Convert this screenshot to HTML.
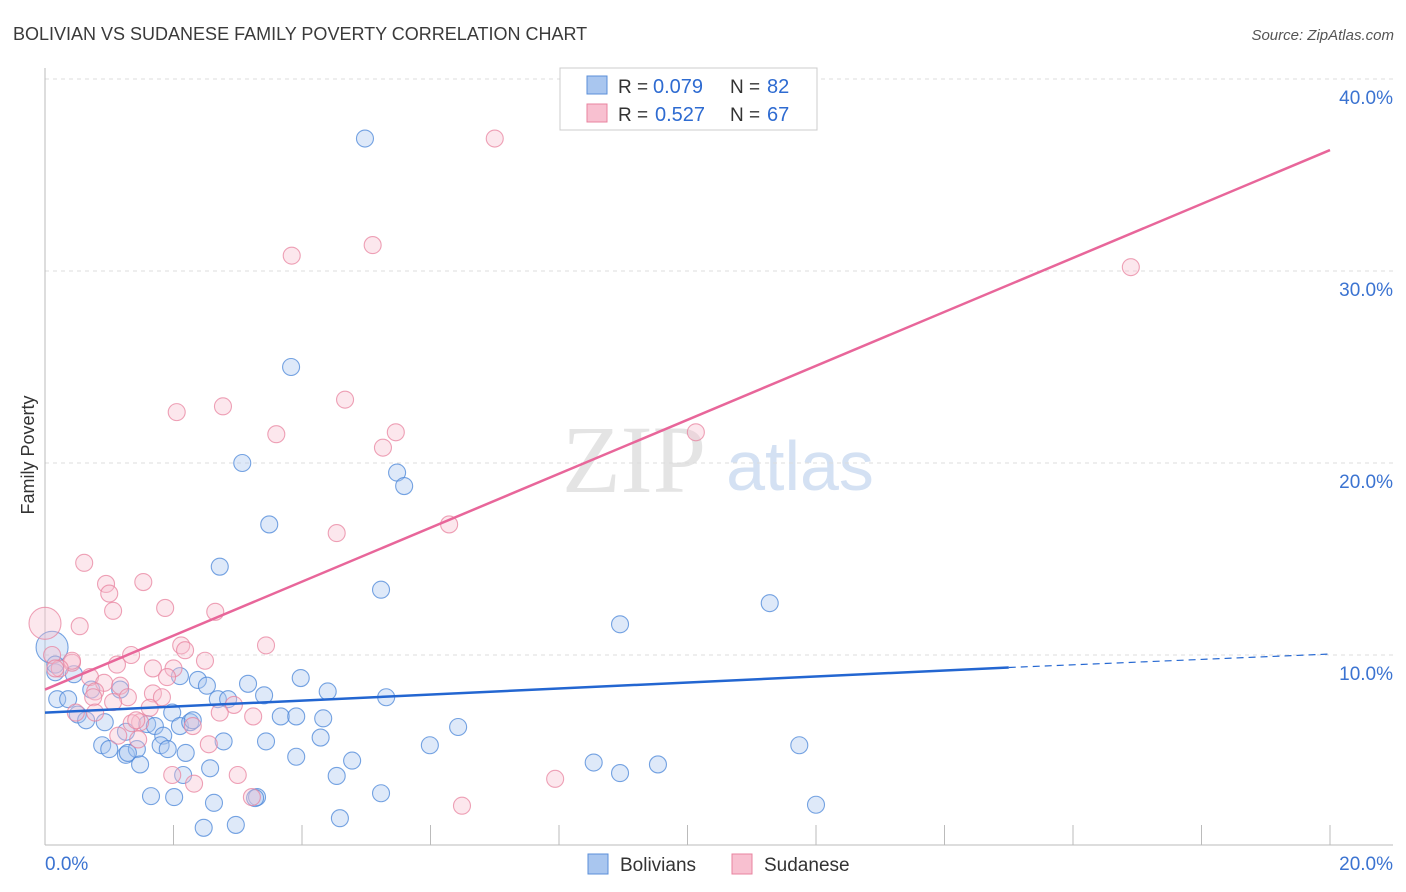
<!DOCTYPE html>
<html><head><meta charset="utf-8"><style>
body{margin:0;background:#fff;font-family:"Liberation Sans",sans-serif}
svg{display:block}
</style></head><body>
<svg id="chart" width="1406" height="892">
<text x="13" y="40" font-size="18" fill="#3a3a3a">BOLIVIAN VS SUDANESE FAMILY POVERTY CORRELATION CHART</text>
<text x="1394" y="40" font-size="15" fill="#555" text-anchor="end" font-style="italic">Source: ZipAtlas.com</text>
<text x="634" y="492" font-size="96" fill="#e4e4e4" font-family="Liberation Serif,serif" text-anchor="middle">ZIP</text>
<text x="800" y="490" font-size="70" fill="#d4e1f3" text-anchor="middle">atlas</text>
<text x="34" y="455" font-size="18" fill="#333" text-anchor="middle" transform="rotate(-90 34 455)">Family Poverty</text>
<g id="grid"></g><g id="axes"></g><g id="pts"></g><g id="lines"></g>
<g>
<rect x="560" y="68" width="257" height="62" fill="#fff" stroke="#ccc"/>
<rect x="587" y="76" width="20" height="18" fill="#a9c6ef" stroke="#5b8fd9"/>
<rect x="587" y="104" width="20" height="18" fill="#f8c0d0" stroke="#e8839f"/>
<text x="618" y="93" font-size="19" fill="#333">R = </text><text x="653" y="93" font-size="20" fill="#2e6bd1">0.079</text>
<text x="730" y="93" font-size="19" fill="#333">N = </text><text x="767" y="93" font-size="20" fill="#2e6bd1">82</text>
<text x="618" y="121" font-size="19" fill="#333">R = </text><text x="655" y="121" font-size="20" fill="#2e6bd1">0.527</text>
<text x="730" y="121" font-size="19" fill="#333">N = </text><text x="767" y="121" font-size="20" fill="#2e6bd1">67</text>
</g>
<g>
<rect x="588" y="854" width="20" height="20" fill="#a9c6ef" stroke="#5b8fd9"/>
<text x="620" y="871" font-size="19" fill="#333">Bolivians</text>
<rect x="732" y="854" width="20" height="20" fill="#f8c0d0" stroke="#e8839f"/>
<text x="764" y="871" font-size="19" fill="#333">Sudanese</text>
</g>
</svg>
<script>
const yTicks=[10,20,30,40];
const yTickLabels=["10.0%","20.0%","30.0%","40.0%"];
const xTickVals=[2,4,6,8,10,12,14,16,18,20];
const xMin=0,xMax=20,yMin=0,yMax=40;
const blueX=[4.98,3.83,3.07,5.48,5.59,3.49,2.72,5.23,11.28,8.95,0.11,0.16,0.45,0.19,0.36,0.72,1.17,2.1,2.38,2.52,3.16,3.98,4.4,3.41,2.69,2.85,5.31,0.51,0.64,0.93,1.26,1.59,1.71,1.98,2.1,2.26,2.3,1.84,0.89,1.0,1.26,1.43,1.29,1.48,1.8,1.91,2.19,2.78,3.44,3.67,3.91,4.33,4.29,3.91,4.78,4.54,5.99,6.43,8.54,8.95,9.54,11.74,2.57,2.15,1.65,2.01,2.63,3.3,3.27,5.23,2.47,2.97,4.59,12.0,0.16];
const blueY=[36.9,25.0,20.0,19.5,18.8,16.8,14.6,13.4,12.7,11.6,10.4,9.1,9.0,7.7,7.7,8.2,8.2,8.9,8.7,8.4,8.5,8.8,8.1,7.9,7.7,7.7,7.8,6.9,6.6,6.5,6.0,6.4,6.3,7.0,6.3,6.5,6.6,5.8,5.3,5.1,4.8,5.1,4.9,4.3,5.3,5.1,4.9,5.5,5.5,6.8,6.8,6.7,5.7,4.7,4.5,3.7,5.3,6.25,4.4,3.85,4.3,5.3,4.1,3.75,2.65,2.6,2.3,2.6,2.55,2.8,1.0,1.15,1.5,2.2,9.5];
const pinkX=[7.0,16.9,3.84,5.1,2.05,2.77,4.67,3.6,5.26,5.46,10.13,4.54,6.29,0.61,0.95,1.0,1.53,1.06,1.87,2.65,0.54,0.0,3.44,2.12,2.18,1.34,2.49,0.11,0.42,0.42,0.23,0.16,1.12,1.68,2.0,1.9,0.7,0.92,0.78,0.75,1.17,1.29,1.68,1.82,1.63,1.06,2.94,2.72,0.48,0.78,1.48,1.14,2.3,3.24,2.55,1.98,2.32,3.0,3.22,6.49,7.94,1.45,1.35,1.42];
const pinkY=[36.9,30.2,30.8,31.35,22.65,22.95,23.3,21.5,20.8,21.6,21.6,16.35,16.8,14.8,13.7,13.2,13.8,12.3,12.45,12.25,11.5,11.65,10.5,10.5,10.25,10.0,9.7,10.0,9.6,9.7,9.3,9.3,9.5,9.3,9.3,8.85,8.85,8.55,8.1,7.8,8.4,7.8,8.0,7.8,7.25,7.55,7.4,7.0,7.0,7.0,6.5,5.8,6.3,6.8,5.35,3.75,3.3,3.75,2.6,2.15,3.55,5.6,6.45,6.6];
const blueTrend=[[0,7.0],[15.0,9.35],[20,10.05]];
const pinkTrend=[[0,8.2],[20,36.3]];
const X=v=>45+(v-xMin)/(xMax-xMin)*1285;
const Y=v=>847-(v-yMin)/(yMax-yMin)*768;
const NS="http://www.w3.org/2000/svg";
function mk(tag,attrs,parent){const e=document.createElementNS(NS,tag);for(const k in attrs)e.setAttribute(k,attrs[k]);document.getElementById(parent).appendChild(e);return e;}
yTicks.forEach((t,i)=>{
 const l=mk('line',{x1:45,x2:1393,y1:Y(t),y2:Y(t),stroke:'#ddd','stroke-dasharray':'4 4'},'grid');
 
 
 const tx=mk('text',{x:1393,y:Y(t)+25,'font-size':19,fill:'#3b73d1','text-anchor':'end'},'grid');
 tx.textContent=yTickLabels[i];
 
 
});
let a=mk('line',{x1:45,x2:45,y1:68,y2:845,stroke:'#bbb'},'axes');


a=mk('line',{x1:45,x2:1393,y1:845,y2:845,stroke:'#bbb'},'axes');


xTickVals.forEach(v=>{
 const t=mk('line',{x1:X(v),x2:X(v),y1:825,y2:845,stroke:'#bbb'},'axes');
 
 
});
let t0=mk('text',{x:45,y:870,'font-size':19,fill:'#3b73d1'},'axes');t0.textContent='0.0%';


let t1=mk('text',{x:1393,y:870,'font-size':19,fill:'#3b73d1','text-anchor':'end'},'axes');t1.textContent='20.0%';


function pts(xs,ys,fill,stroke,name){xs.forEach((x,i)=>{
 const big=(x<0.2&&(ys[i]>10.2&&ys[i]<11.8));
 const c=mk('circle',{cx:X(x),cy:Y(ys[i]),r:big?16:8.5,fill:fill,'fill-opacity':0.38,stroke:stroke,'stroke-width':1.1,'stroke-opacity':0.75},'pts');
 
 
});}
pts(blueX,blueY,'#a9c6ef','#4a86d8','bolivian-point');
pts(pinkX,pinkY,'#f8c0d0','#e8839f','sudanese-point');
let l1=mk('line',{x1:X(blueTrend[0][0]),y1:Y(blueTrend[0][1]),x2:X(blueTrend[1][0]),y2:Y(blueTrend[1][1]),stroke:'#2366d1','stroke-width':2.5},'lines');


let l2=mk('line',{x1:X(blueTrend[1][0]),y1:Y(blueTrend[1][1]),x2:X(blueTrend[2][0]),y2:Y(blueTrend[2][1]),stroke:'#2366d1','stroke-width':1.2,'stroke-dasharray':'7 5'},'lines');


let l3=mk('line',{x1:X(pinkTrend[0][0]),y1:Y(pinkTrend[0][1]),x2:X(pinkTrend[1][0]),y2:Y(pinkTrend[1][1]),stroke:'#e8669a','stroke-width':2.5},'lines');


</script>
</body></html>
